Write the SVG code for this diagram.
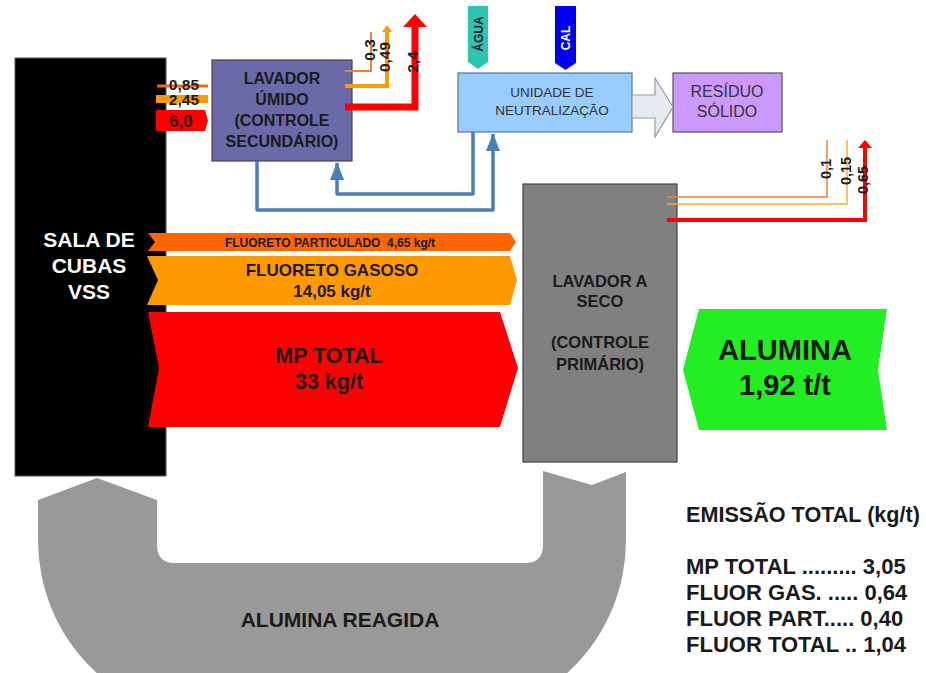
<svg xmlns="http://www.w3.org/2000/svg" width="926" height="673" viewBox="0 0 926 673">
<defs>
<style>
text{font-family:"Liberation Sans",Arial,sans-serif;font-weight:bold;fill:#1a1a1a}
.c{text-anchor:middle}
.n{font-weight:normal;fill:#333}
.blue{fill:none;stroke:#4a7ebb;stroke-width:3.5;stroke-linejoin:round}
</style>
<marker id="ab" viewBox="0 0 18 14" refX="17" refY="7" markerWidth="18" markerHeight="14" markerUnits="userSpaceOnUse" orient="auto">
<path d="M0,0 L18,7 L0,14 Z" fill="#4a7ebb"/>
</marker>
</defs>
<rect width="926" height="673" fill="#fff"/>

<g id="alumina-reagida">
<path d="M38,500 L97,478 L157,500 L157,545 Q157,563 175,563 L525,563 Q543,563 543,545 L543,471 L592,485 L626,472 L626,540 A180,180 0 0 1 446,720 L218,720 A180,180 0 0 1 38,540 Z" fill="#999"/>
<text class="c" x="340" y="627" font-size="21">ALUMINA REAGIDA</text>
</g>

<g id="sala-de-cubas">
<rect x="15" y="58" width="151" height="418" fill="#000" stroke="#555" stroke-width="1"/>
<text class="c" x="89" y="247" font-size="21" style="fill:#fff">SALA DE</text>
<text class="c" x="89" y="273" font-size="21" style="fill:#fff">CUBAS</text>
<text class="c" x="89" y="299" font-size="21" style="fill:#fff">VSS</text>
</g>

<g id="flows-main">
<g id="fluoreto-particulado">
<polygon points="148,233 510,233 516,242 510,251 148,251 155,242" fill="#ff6600"/>
<text class="c" x="330" y="246.5" font-size="12" xml:space="preserve">FLUORETO PARTICULADO  4,65 kg/t</text>
</g>
<g id="fluoreto-gasoso">
<polygon points="147,256 510,256 517,280 510,305 147,305 158,280" fill="#ff9900"/>
<text class="c" x="332" y="276" font-size="17">FLUORETO GASOSO</text>
<text class="c" x="332" y="297" font-size="17">14,05 kg/t</text>
</g>
<g id="mp-total">
<polygon points="148,312 500,312 518,368 500,427 148,427 159,368" fill="#ff0000"/>
<text class="c" x="329" y="363" font-size="21.5">MP TOTAL</text>
<text class="c" x="329" y="389" font-size="21.5">33 kg/t</text>
</g>
</g>

<g id="inputs-lavador-umido">
<line x1="157" y1="86" x2="208" y2="86" stroke="#ff6600" stroke-width="3"/>
<rect x="156" y="95" width="52" height="8" fill="#ff9900"/>
<polygon points="156,110 205,110 208,120.5 205,131 156,131" fill="#ff0000"/>
<text x="199" y="90" font-size="15.5" text-anchor="end">0,85</text>
<text x="199" y="104.5" font-size="15.5" text-anchor="end">2,45</text>
<text class="c" x="181" y="127" font-size="17" style="fill:#300">6,0</text>
</g>

<g id="lavador-umido">
<rect x="212" y="60" width="140" height="101" fill="#6a6aa8" stroke="#444" stroke-width="1.2"/>
<text class="c" x="282" y="84" font-size="16">LAVADOR</text>
<text class="c" x="282" y="105" font-size="16">ÚMIDO</text>
<text class="c" x="282" y="126" font-size="16">(CONTROLE</text>
<text class="c" x="282" y="147" font-size="16">SECUNDÁRIO)</text>
</g>

<g id="outputs-lavador-umido">
<polyline points="345,71 371,71 371,32" fill="none" stroke="#f0803c" stroke-width="2"/>
<polyline points="345,86 387,86 387,31" fill="none" stroke="#ff9900" stroke-width="4"/>
<polygon points="382,32 392,32 387,25" fill="#ff9900"/>
<polyline points="345,107 415,107 415,26" fill="none" stroke="#ff0000" stroke-width="7"/>
<polygon points="403,27 427,27 415,14" fill="#ff0000"/>
<text class="c" transform="translate(375,50) rotate(-90)" font-size="15.5">0,3</text>
<text class="c" transform="translate(390,57) rotate(-90)" font-size="15.5">0,49</text>
<text class="c" transform="translate(418,62) rotate(-90)" font-size="15.5">2,4</text>
</g>

<g id="agua">
<polygon points="468,6 488,6 488,62 478,69 468,62" fill="#2ec4b2"/>
<text class="c" transform="translate(482.5,34) rotate(-90)" font-size="12" style="fill:#222">ÁGUA</text>
</g>
<g id="cal">
<polygon points="555,6 576,6 576,63 565.5,70 555,63" fill="#0000ee"/>
<text class="c" transform="translate(570,38) rotate(-90)" font-size="12" style="fill:#fff">CAL</text>
</g>

<g id="unidade-neutralizacao">
<rect x="458" y="73" width="174" height="59" fill="#99ccff" stroke="#557799" stroke-width="1.2"/>
<text class="c n" x="552" y="97" font-size="13.5">UNIDADE DE</text>
<text class="c n" x="552" y="115" font-size="13.5">NEUTRALIZAÇÃO</text>
</g>

<g id="residuo-solido">
<rect x="673" y="73" width="109" height="59" fill="#cc99ff" stroke="#555" stroke-width="1.2"/>
<text class="c n" x="727" y="97" font-size="16">RESÍDUO</text>
<text class="c n" x="727" y="117" font-size="16">SÓLIDO</text>
</g>

<g id="connectors">
<polygon points="632,95 655,95 655,78 673,107 655,137 655,118 632,118" fill="#e4eaf4" stroke="#999" stroke-width="1.2"/>
<path class="blue" d="M257,161 V210 H493 V134" marker-end="url(#ab)"/>
<path class="blue" d="M473,132 V194 H337 V163" marker-end="url(#ab)"/>
</g>

<g id="lavador-seco">
<rect x="523" y="184" width="154" height="278" fill="#808080" stroke="#444" stroke-width="1.2"/>
<text class="c" x="600" y="287" font-size="16.5">LAVADOR A</text>
<text class="c" x="600" y="307" font-size="16.5">SECO</text>
<text class="c" x="600" y="348" font-size="16.5">(CONTROLE</text>
<text class="c" x="600" y="370" font-size="16.5">PRIMÁRIO)</text>
</g>

<g id="outputs-lavador-seco">
<polyline points="667,197 827,197 827,140" fill="none" stroke="#f0803c" stroke-width="1.5"/>
<polyline points="667,204 847,204 847,140" fill="none" stroke="#ffaa33" stroke-width="1.5"/>
<polyline points="667,220 865,220 865,146" fill="none" stroke="#ff0000" stroke-width="4"/>
<polygon points="858,148 872,148 865,140" fill="#ff0000"/>
<text class="c" transform="translate(831,169) rotate(-90)" font-size="14.5">0,1</text>
<text class="c" transform="translate(851,171) rotate(-90)" font-size="14.5">0,15</text>
<text class="c" transform="translate(868,180) rotate(-90)" font-size="14.5">0,65</text>
</g>

<g id="alumina">
<polygon points="683,370 699,309 887,309 878,370 887,430 699,430" fill="#22ee22"/>
<text class="c" x="785" y="360" font-size="29">ALUMINA</text>
<text class="c" x="785" y="395" font-size="29">1,92 t/t</text>
</g>

<g id="emissao-total">
<text x="686" y="522" font-size="21.6">EMISSÃO TOTAL (kg/t)</text>
<text x="686" y="574" font-size="22">MP TOTAL ......... 3,05</text>
<text x="686" y="600" font-size="22">FLUOR GAS. ..... 0,64</text>
<text x="686" y="626" font-size="22">FLUOR PART..... 0,40</text>
<text x="686" y="652" font-size="22">FLUOR TOTAL .. 1,04</text>
</g>
</svg>
